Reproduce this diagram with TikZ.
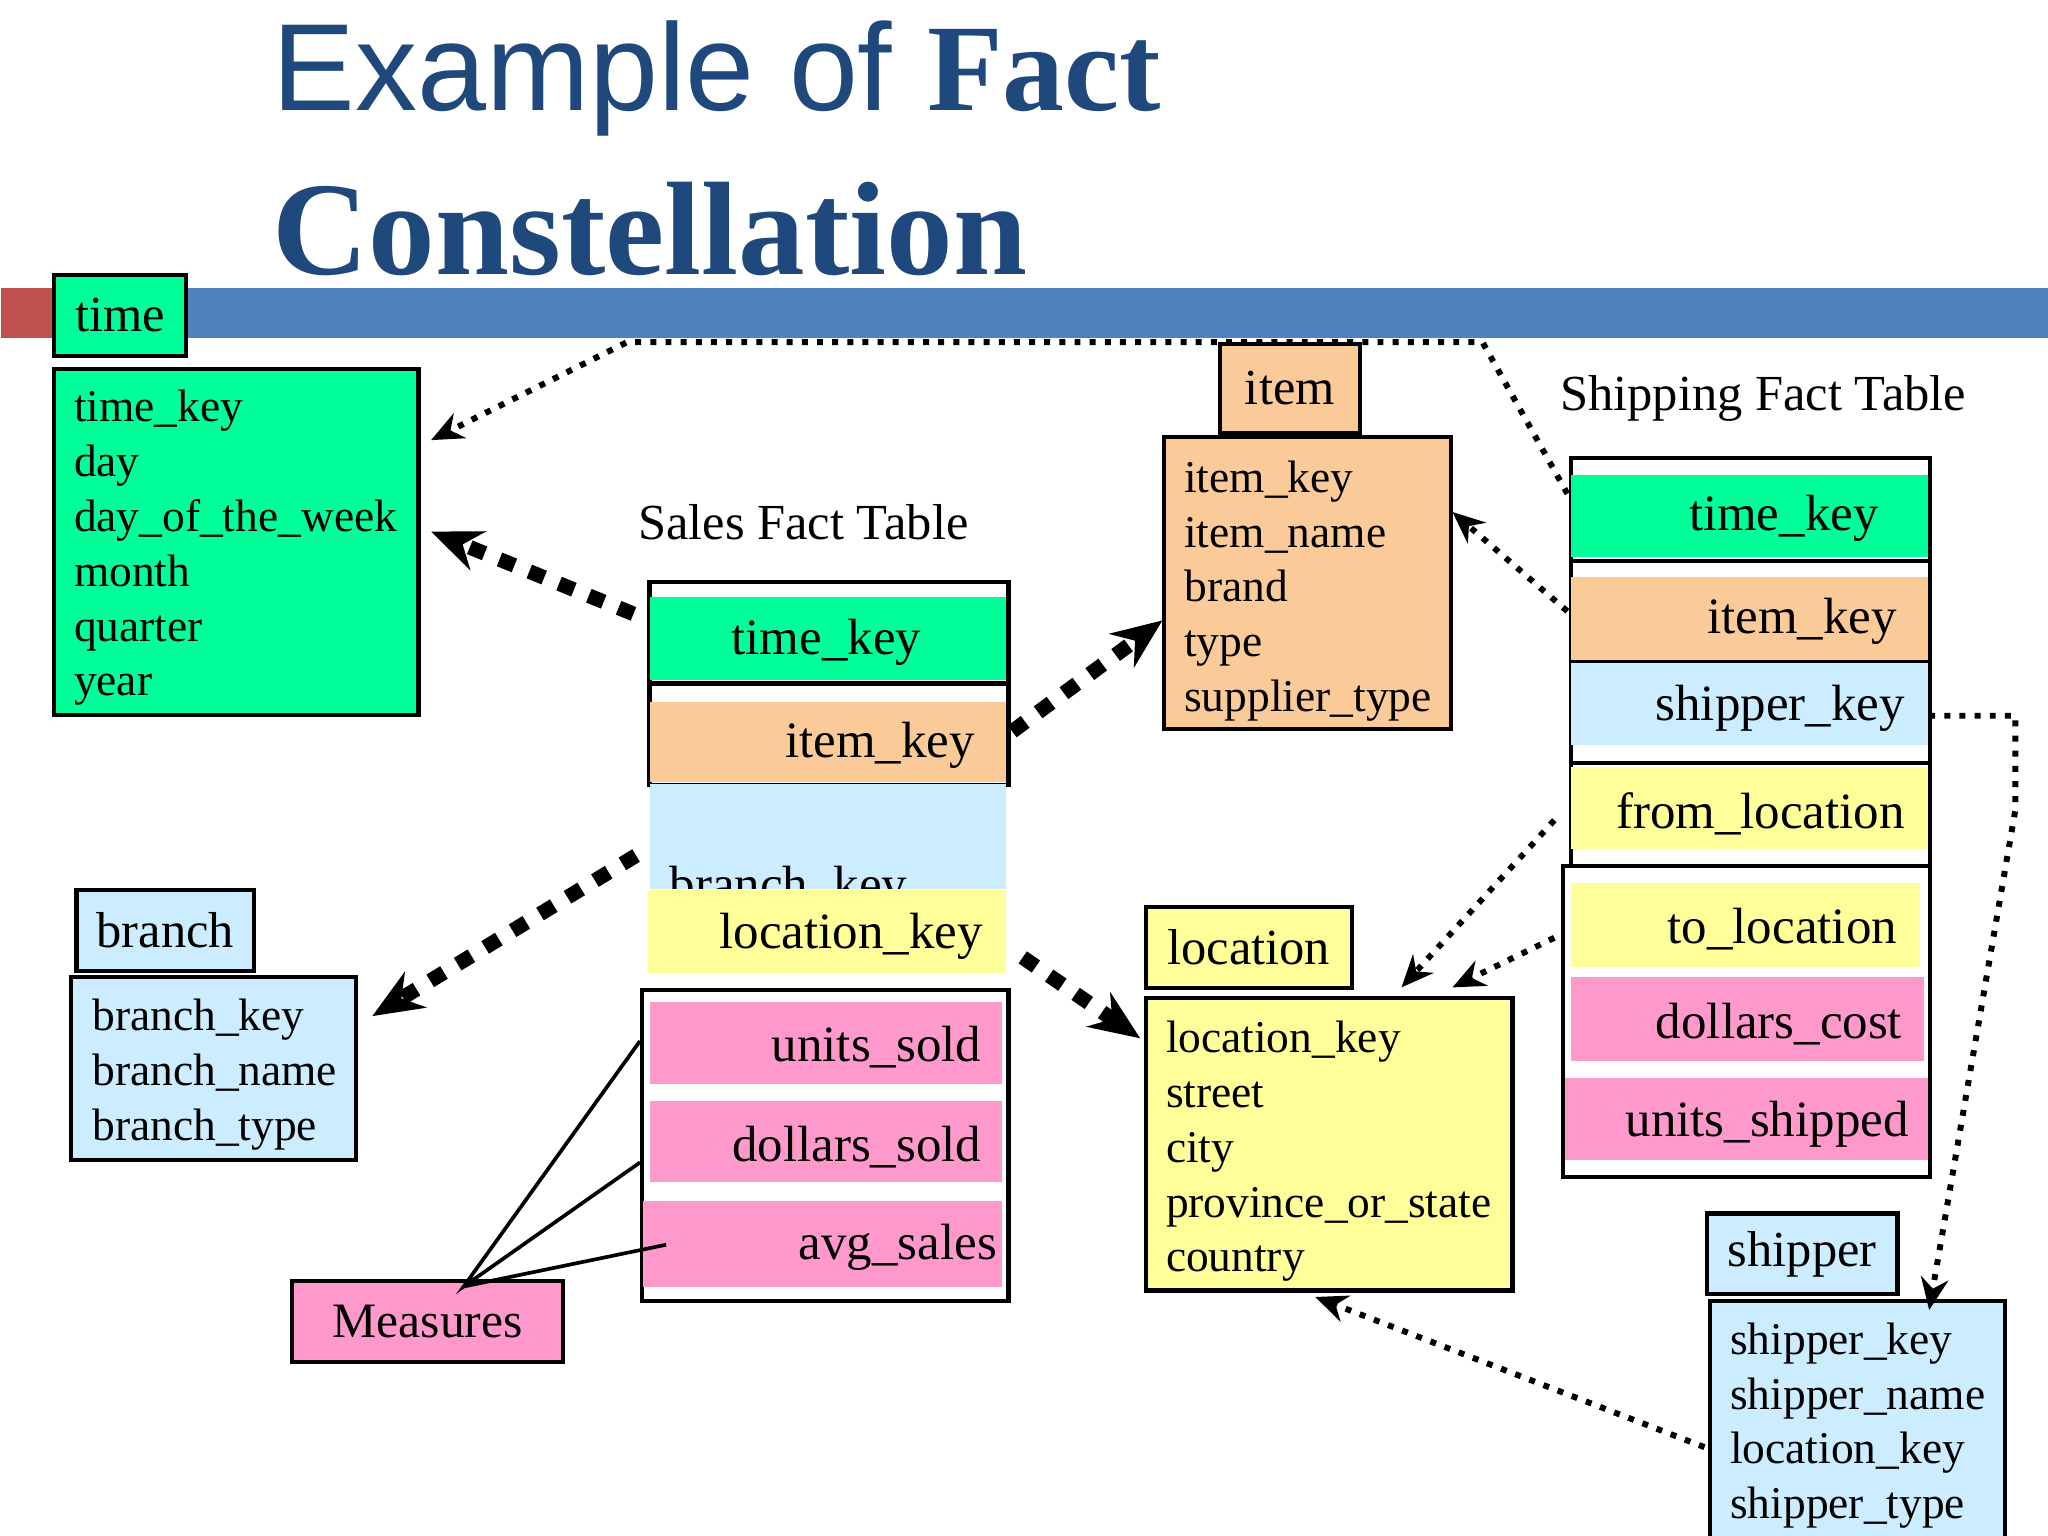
\documentclass[tikz,border=0pt]{standalone}
\usepackage{fontspec}
\setmainfont{Liberation Serif}
\newfontfamily\titlesans{Liberation Sans}
\usetikzlibrary{arrows.meta}
\definecolor{cgreen}{RGB}{0,255,153}
\definecolor{corange}{RGB}{250,202,152}
\definecolor{cyellow}{RGB}{255,255,153}
\definecolor{cblue}{RGB}{204,236,255}
\definecolor{cpink}{RGB}{255,153,204}
\definecolor{tblue}{RGB}{31,73,125}
\definecolor{bar}{RGB}{79,129,189}
\definecolor{cred}{RGB}{192,80,77}
\tikzset{
 bx/.style={draw=black,line width=0.9pt,inner sep=0pt},
 fl/.style={inner sep=0pt},
 lst/.style={font=\fontsize{9.9}{11.95}\selectfont,align=left,anchor=north west,inner sep=0pt},
 row/.style={font=\fontsize{11.1}{13}\selectfont,anchor=east,inner sep=0pt},
 thin/.style={line width=1.3pt,dotted,-{Stealth[length=7pt,width=6pt]}},
 thick/.style={line width=3.2pt,dash pattern=on 3.5pt off 3.5pt,-{Stealth[length=11pt,width=9pt]}},
}
% name x1 y1 x2 y2 style
\newcommand\rb[6]{\node[#6,anchor=north west,minimum width={(#4-#2)*0.01cm},minimum height={(#5-#3)*0.01cm}] (#1) at ({#2*0.01},{-#3*0.01}) {};}
\begin{document}
\begin{tikzpicture}
\useasboundingbox (0,0) rectangle (15.68,-11.76);
% title
\node[anchor=west,inner sep=0pt,text=tblue,font=\titlesans\fontsize{27}{30}\selectfont] (t1) at (2.08,-0.6) {Example of \textbf{\rmfamily Fact}};
\node[anchor=west,inner sep=0pt,text=tblue,font=\bfseries\fontsize{29}{30}\selectfont] (t2) at (2.08,-1.75) {Constellation};
% bar
\rb{barb}{0}{220}{1568}{258}{fl,fill=bar}
\rb{barr}{0}{220}{38}{258}{fl,fill=cred}
% time
\rb{timeh}{40}{209}{141}{271}{bx,fill=cgreen}
\node[font=\fontsize{11}{13}\selectfont] at (timeh) {time};
\rb{timeb}{40}{281}{319}{546}{bx,fill=cgreen}
\node[lst] at (0.56,-2.98) {time\_key\\day\\day\_of\_the\_week\\month\\quarter\\year};
% item
\rb{itemh}{933}{262}{1040}{330}{bx,fill=corange}
\node[font=\fontsize{11}{13}\selectfont] at (itemh) {item};
\rb{itemb}{890}{333}{1110}{557}{bx,fill=corange}
\node[lst] at (9.06,-3.52) {item\_key\\item\_name\\brand\\type\\supplier\_type};
% location
\rb{loch}{876}{693}{1034}{755}{bx,fill=cyellow}
\node[font=\fontsize{11}{13}\selectfont] at (loch) {location};
\rb{locb}{876}{763}{1157}{987}{bx,fill=cyellow}
\node[lst] at (8.92,-7.81) {location\_key\\street\\city\\province\_or\_state\\country};
% branch
\rb{brh}{57}{680}{193}{742}{bx,fill=cblue}
\node[font=\fontsize{11}{13}\selectfont] at (brh) {branch};
\rb{brb}{53}{747}{271}{887}{bx,fill=cblue}
\node[lst] at (0.70,-7.64) {branch\_key\\branch\_name\\branch\_type};
% shipper
\rb{shh}{1306}{928}{1452}{990}{bx,fill=cblue}
\node[font=\fontsize{11}{13}\selectfont] at (shh) {shipper};
\rb{shb}{1308}{995}{1534}{1190}{bx,fill=cblue}
\node[lst] at (13.24,-10.12) {shipper\_key\\shipper\_name\\location\_key\\shipper\_type};
% measures
\rb{meas}{222}{980}{430}{1042}{bx,fill=cpink}
\node[font=\fontsize{10.8}{13}\selectfont] at (meas) {Measures};
% Sales fact table
\node[font=\fontsize{11}{13}\selectfont] (sft) at (6.15,-4.0) {Sales Fact Table};
\rb{s1}{496}{444}{771}{522}{bx}
\rb{s2}{496}{522}{771}{600}{bx}
\rb{s5}{490}{757}{771}{995}{bx}
\rb{sf1}{497}{457}{770}{520}{fl,fill=cgreen}
\rb{sf2}{497}{537}{770}{598}{fl,fill=corange}
\rb{sf3}{497}{600}{770}{680}{fl,fill=cblue}
\rb{sf4}{496}{681}{770}{745}{fl,fill=cyellow}
\rb{sf5}{497}{767}{767}{830}{fl,fill=cpink}
\rb{sf6}{497}{843}{767}{905}{fl,fill=cpink}
\rb{sf7}{492}{919}{767}{985}{fl,fill=cpink}
\begin{scope}
\clip (4.97,-6.0) rectangle (7.70,-6.80);
\node[row,anchor=base west] at (5.12,-6.90) {branch\_key};
\end{scope}
\node[row] at (7.06,-4.92) {time\_key};
\node[row] at (7.47,-5.71) {item\_key};
\node[row] at (7.53,-7.17) {location\_key};
\node[row] at (7.52,-8.02) {units\_sold};
\node[row] at (7.52,-8.78) {dollars\_sold};
\node[row] at (7.64,-9.55) {avg\_sales};
% shipping fact table
\node[font=\fontsize{11}{13}\selectfont] (shft) at (13.5,-3.05) {Shipping Fact Table};
\rb{h1}{1202}{349}{1477}{428}{bx}
\rb{h2}{1202}{428}{1477}{505}{bx}
\rb{h3}{1202}{505}{1477}{583}{bx}
\rb{h4}{1202}{583}{1477}{662}{bx}
\rb{h5}{1196}{662}{1477}{900}{bx}
\rb{hf1}{1203}{363}{1476}{426}{fl,fill=cgreen}
\rb{hf2}{1203}{441}{1476}{505}{fl,fill=corange}
\rb{hf3}{1203}{507}{1476}{570}{fl,fill=cblue}
\rb{hf4}{1203}{587}{1476}{650}{fl,fill=cyellow}
\rb{hf5}{1203}{676}{1470}{740}{fl,fill=cyellow}
\rb{hf6}{1203}{748}{1473}{812}{fl,fill=cpink}
\rb{hf7}{1198}{825}{1476}{888}{fl,fill=cpink}
\node[row] at (14.39,-3.97) {time\_key};
\node[row] at (14.53,-4.76) {item\_key};
\node[row] at (14.59,-5.42) {shipper\_key};
\node[row] at (14.59,-6.23) {from\_location};
\node[row] at (14.53,-7.11) {to\_location};
\node[row] at (14.57,-7.84) {dollars\_cost};
\node[row] at (14.62,-8.61) {units\_shipped};
% measure lines
\coordinate (mp) at (3.55,-9.85);
\coordinate (m1) at (4.90,-7.97);
\coordinate (m2) at (4.90,-8.90);
\coordinate (m3) at (5.10,-9.53);
\draw[line width=0.8pt] (m1) -- (mp) -- (m2) (mp) -- (m3);
% connectors
\coordinate (a0) at (12.0,-3.78);
\coordinate (a1) at (11.35,-2.62);
\coordinate (a2) at (4.80,-2.62);
\coordinate (a3) at (3.30,-3.37);
\draw[thin] (a0) -- (a1) -- (a2) -- (a3);
\draw[thick] (4.85,-4.70) -- (3.30,-4.07);
\draw[thick] (7.75,-5.60) -- (8.90,-4.75);
\draw[thick] (4.87,-6.55) -- (2.85,-7.78);
\draw[thick] (7.83,-7.33) -- (8.73,-7.95);
\draw[thin] (12.00,-4.68) -- (11.12,-3.92);
\draw[thin] (11.90,-6.28) -- (10.73,-7.56);
\draw[thin] (11.90,-7.18) -- (11.12,-7.56);
\draw[thin] (14.77,-5.48) -- (15.43,-5.48) -- (15.43,-6.2) -- (14.77,-10.03);
\draw[thin] (13.05,-11.08) -- (10.07,-9.93);
\end{tikzpicture}
\end{document}
